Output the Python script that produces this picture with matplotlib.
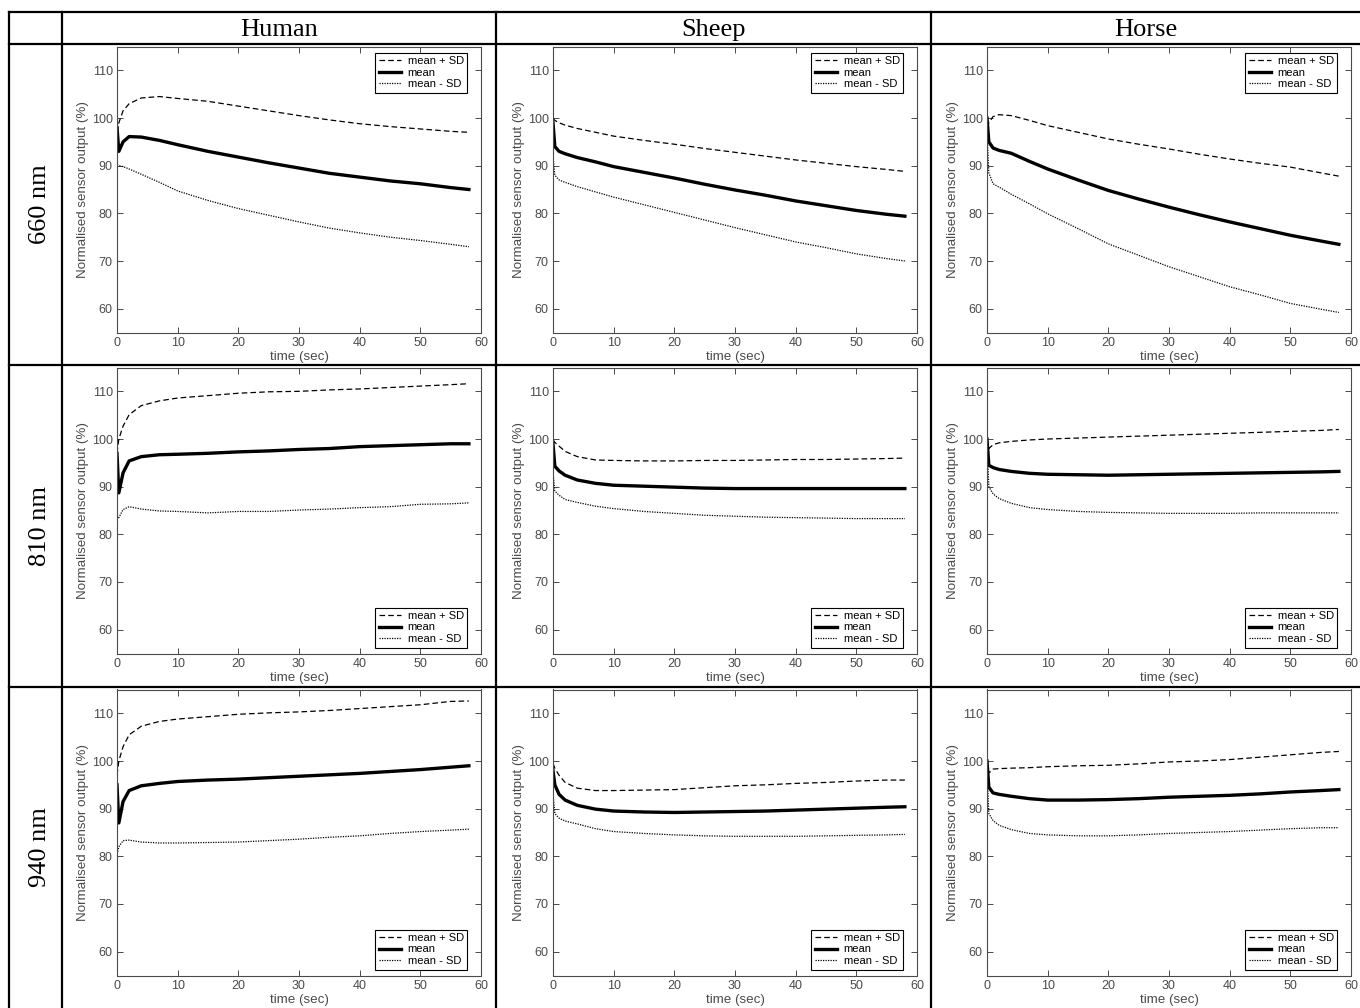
import matplotlib
matplotlib.use('Agg')
import matplotlib.pyplot as plt
from matplotlib.lines import Line2D

# ===================== data =====================
t = [0, 0.3, 1, 2, 4, 7, 10, 15, 20, 25, 30, 35, 40, 45, 50, 55, 58]

columns = ['Human', 'Sheep', 'Horse']
rows = ['660 nm', '810 nm', '940 nm']
legend_labels = ['mean + SD', 'mean', 'mean - SD']
y_ticks = [60, 70, 80, 90, 100, 110]
x_ticks = [0, 10, 20, 30, 40, 50, 60]

# 660 nm
h660_up = [97.0, 99.0, 101.5, 103.0, 104.2, 104.5, 104.1, 103.5, 102.5, 101.5, 100.5, 99.6, 98.8, 98.2, 97.7, 97.2, 97.0]
h660_mean = [98.0, 93.0, 95.0, 96.1, 96.0, 95.3, 94.4, 93.0, 91.8, 90.6, 89.5, 88.4, 87.6, 86.8, 86.2, 85.4, 85.0]
h660_low = [90.2, 90.0, 89.8, 89.3, 88.2, 86.5, 84.7, 82.7, 81.0, 79.6, 78.2, 76.9, 75.9, 75.0, 74.3, 73.5, 73.0]

s660_up = [100.0, 99.5, 99.0, 98.5, 97.8, 97.0, 96.2, 95.3, 94.5, 93.6, 92.8, 92.0, 91.2, 90.5, 89.8, 89.2, 88.8]
s660_mean = [99.0, 94.0, 93.0, 92.5, 91.7, 90.8, 89.8, 88.6, 87.4, 86.1, 84.9, 83.8, 82.6, 81.6, 80.6, 79.8, 79.4]
s660_low = [92.0, 88.0, 87.0, 86.5, 85.6, 84.5, 83.4, 81.8, 80.2, 78.6, 77.0, 75.5, 74.0, 72.8, 71.5, 70.5, 70.0]

x660_up = [98.0, 99.0, 100.3, 100.7, 100.5, 99.5, 98.4, 97.0, 95.6, 94.5, 93.5, 92.4, 91.4, 90.5, 89.7, 88.5, 87.8]
x660_mean = [100.0, 95.0, 93.7, 93.2, 92.6, 90.9, 89.3, 87.0, 84.8, 83.0, 81.3, 79.7, 78.2, 76.8, 75.4, 74.2, 73.5]
x660_low = [97.0, 88.5, 86.2, 85.5, 84.0, 82.0, 79.9, 76.8, 73.6, 71.2, 68.8, 66.7, 64.6, 62.9, 61.1, 59.9, 59.2]

# 810 nm
h810_up = [97.0, 100.0, 102.7, 105.1, 107.0, 108.0, 108.6, 109.1, 109.6, 109.9, 110.0, 110.3, 110.5, 110.8, 111.1, 111.4, 111.6]
h810_mean = [97.0, 88.7, 92.9, 95.4, 96.3, 96.7, 96.8, 97.0, 97.3, 97.5, 97.8, 98.0, 98.4, 98.6, 98.8, 99.0, 99.0]
h810_low = [84.0, 83.5, 85.2, 85.8, 85.3, 84.9, 84.8, 84.5, 84.8, 84.8, 85.1, 85.3, 85.6, 85.8, 86.3, 86.4, 86.6]

s810_up = [99.9, 99.3, 98.5, 97.4, 96.3, 95.6, 95.5, 95.4, 95.4, 95.5, 95.5, 95.6, 95.7, 95.7, 95.8, 95.9, 96.0]
s810_mean = [99.0, 94.3, 93.3, 92.4, 91.4, 90.7, 90.3, 90.1, 89.9, 89.7, 89.6, 89.6, 89.6, 89.6, 89.6, 89.6, 89.6]
s810_low = [93.0, 89.1, 88.2, 87.3, 86.7, 85.9, 85.4, 84.8, 84.4, 84.0, 83.8, 83.6, 83.5, 83.4, 83.3, 83.3, 83.3]

x810_up = [100.0, 98.0, 98.8, 99.2, 99.5, 99.8, 100.0, 100.2, 100.4, 100.6, 100.8, 101.0, 101.2, 101.4, 101.6, 101.8, 102.0]
x810_mean = [100.0, 94.5, 94.0, 93.6, 93.2, 92.8, 92.6, 92.5, 92.4, 92.5, 92.6, 92.7, 92.8, 92.9, 93.0, 93.1, 93.2]
x810_low = [99.0, 90.0, 88.5, 87.5, 86.5, 85.6, 85.2, 84.8, 84.6, 84.5, 84.4, 84.4, 84.4, 84.5, 84.5, 84.5, 84.5]

# 940 nm
h940_up = [97.0, 100.0, 103.0, 105.5, 107.3, 108.3, 108.8, 109.3, 109.8, 110.1, 110.3, 110.6, 111.0, 111.4, 111.8, 112.5, 112.6]
h940_mean = [95.0, 87.0, 91.5, 93.8, 94.8, 95.3, 95.7, 96.0, 96.2, 96.5, 96.8, 97.1, 97.4, 97.8, 98.2, 98.7, 99.0]
h940_low = [80.5, 82.0, 83.3, 83.4, 83.0, 82.8, 82.8, 82.9, 83.0, 83.3, 83.6, 84.0, 84.3, 84.8, 85.2, 85.5, 85.7]

s940_up = [99.5, 98.5, 97.0, 95.5, 94.3, 93.8, 93.8, 93.9, 94.0, 94.4, 94.8, 95.0, 95.3, 95.5, 95.8, 96.0, 96.0]
s940_mean = [98.0, 95.0, 93.0, 91.8, 90.7, 89.9, 89.5, 89.3, 89.2, 89.3, 89.4, 89.5, 89.7, 89.9, 90.1, 90.3, 90.4]
s940_low = [93.0, 89.0, 88.0, 87.4, 86.8, 85.8, 85.2, 84.8, 84.5, 84.3, 84.2, 84.2, 84.2, 84.3, 84.4, 84.5, 84.6]

x940_up = [100.0, 97.5, 98.3, 98.4, 98.5, 98.6, 98.8, 99.0, 99.1, 99.4, 99.8, 100.0, 100.3, 100.8, 101.3, 101.8, 102.0]
x940_mean = [100.0, 94.5, 93.3, 93.0, 92.6, 92.1, 91.8, 91.8, 91.9, 92.1, 92.4, 92.6, 92.8, 93.1, 93.5, 93.8, 94.0]
x940_low = [98.0, 89.0, 87.5, 86.5, 85.6, 84.8, 84.5, 84.3, 84.3, 84.5, 84.8, 85.0, 85.2, 85.5, 85.8, 86.0, 86.0]

panels = [
    [(h660_up, h660_mean, h660_low), (s660_up, s660_mean, s660_low), (x660_up, x660_mean, x660_low)],
    [(h810_up, h810_mean, h810_low), (s810_up, s810_mean, s810_low), (x810_up, x810_mean, x810_low)],
    [(h940_up, h940_mean, h940_low), (s940_up, s940_mean, s940_low), (x940_up, x940_mean, x940_low)],
]

# ===================== layout (pixels) =====================
W, H = 1360, 1008
fig = plt.figure(figsize=(W / 100, H / 100), dpi=100)

col_edges = [62, 496, 931, 1360]
row_edges = [44, 365, 687, 1008]
ax_left_off = [55, 57, 56]
ax_width = 364
ax_top_off = 2.5
ax_height = 286

grey = '#4a4a4a'


def px_rect(x0, y0, w, h):
    return [x0 / W, 1 - (y0 + h) / H, w / W, h / H]


for r in range(3):
    for c in range(3):
        up, mean, low = panels[r][c]
        x0 = col_edges[c] + ax_left_off[c]
        y0 = row_edges[r] + ax_top_off
        ax = fig.add_axes(px_rect(x0, y0, ax_width, ax_height))
        ax.plot(t, up, color='black', lw=0.9, dashes=(4.5, 2.5), label=legend_labels[0])
        ax.plot(t, mean, color='black', lw=2.4, label=legend_labels[1])
        ax.plot(t, low, color='black', lw=0.9, dashes=(1.0, 1.0), label=legend_labels[2])
        ax.set_xlim(0, 60)
        ax.set_ylim(55, 115)
        ax.set_xticks(x_ticks)
        ax.set_yticks(y_ticks)
        ax.tick_params(direction='in', top=True, right=True, length=4, width=0.7,
                       colors=grey, labelsize=9, pad=3)
        for lab in ax.get_xticklabels() + ax.get_yticklabels():
            lab.set_family('Liberation Sans')
        for sp in ax.spines.values():
            sp.set_color(grey)
            sp.set_linewidth(0.8)
        ax.set_xlabel('time (sec)', fontsize=9.6, color=grey, family='Liberation Sans', labelpad=2)
        ax.set_ylabel('Normalised sensor output (%)', fontsize=9.6, color=grey,
                      family='Liberation Sans', labelpad=2)
        if r == 0:
            anchor = (1 - 14 / ax_width, 1 - 6 / ax_height)
            loc = 'upper right'
        else:
            anchor = (1 - 14 / ax_width, 6 / ax_height)
            loc = 'lower right'
        leg = ax.legend(loc=loc, bbox_to_anchor=anchor, borderaxespad=0,
                        prop={'family': 'Liberation Sans', 'size': 8},
                        handlelength=2.0, handletextpad=0.6, labelspacing=0.15,
                        borderpad=0.3, fancybox=False, framealpha=1)
        leg.get_frame().set_edgecolor('black')
        leg.get_frame().set_linewidth(0.8)

# ===================== table frame =====================
def hline(y, x0=9, x1=W):
    fig.add_artist(Line2D([x0 / W, x1 / W], [1 - y / H, 1 - y / H], color='black', lw=1.6))


def vline(x, y0=12, y1=H):
    fig.add_artist(Line2D([x / W, x / W], [1 - y0 / H, 1 - y1 / H], color='black', lw=1.6))


hline(12)
for y in row_edges[:3]:
    hline(y)
vline(9)
for x in col_edges[:3]:
    vline(x)

for c, name in enumerate(columns):
    xc = (col_edges[c] + col_edges[c + 1]) / 2
    fig.text(xc / W, 1 - 30 / H, name, ha='center', va='center',
             family='Liberation Serif', fontsize=19)

for r, name in enumerate(rows):
    yc = (row_edges[r] + row_edges[r + 1]) / 2
    fig.text(40 / W, 1 - yc / H, name, ha='center', va='center', rotation=90,
             family='Liberation Serif', fontsize=19)

fig.savefig('out.png', dpi=100, facecolor='white')
